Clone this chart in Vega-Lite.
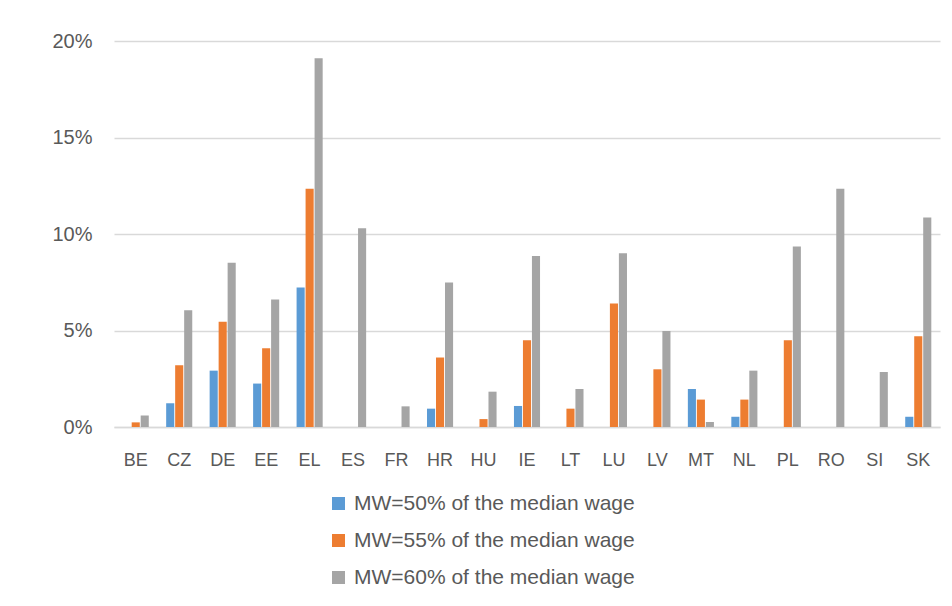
{
  "$schema": "https://vega.github.io/schema/vega-lite/v6.json",
  "width": 826,
  "height": 386,
  "autosize": {"type": "none"},
  "padding": {"left": 114, "top": 41, "right": 12, "bottom": 179},
  "background": "white",
  "config": {
    "view": {"stroke": null},
    "font": "Liberation Sans"
  },
  "data": {
    "values": [
      {"country": "BE", "series": "MW=55% of the median wage", "value": 0.0024},
      {"country": "BE", "series": "MW=60% of the median wage", "value": 0.006},
      {"country": "CZ", "series": "MW=50% of the median wage", "value": 0.0123},
      {"country": "CZ", "series": "MW=55% of the median wage", "value": 0.032},
      {"country": "CZ", "series": "MW=60% of the median wage", "value": 0.0605},
      {"country": "DE", "series": "MW=50% of the median wage", "value": 0.0292},
      {"country": "DE", "series": "MW=55% of the median wage", "value": 0.0545},
      {"country": "DE", "series": "MW=60% of the median wage", "value": 0.0851},
      {"country": "EE", "series": "MW=50% of the median wage", "value": 0.0225},
      {"country": "EE", "series": "MW=55% of the median wage", "value": 0.0408},
      {"country": "EE", "series": "MW=60% of the median wage", "value": 0.0661},
      {"country": "EL", "series": "MW=50% of the median wage", "value": 0.0723},
      {"country": "EL", "series": "MW=55% of the median wage", "value": 0.1234},
      {"country": "EL", "series": "MW=60% of the median wage", "value": 0.191},
      {"country": "ES", "series": "MW=60% of the median wage", "value": 0.103},
      {"country": "FR", "series": "MW=60% of the median wage", "value": 0.0107},
      {"country": "HR", "series": "MW=50% of the median wage", "value": 0.0095},
      {"country": "HR", "series": "MW=55% of the median wage", "value": 0.036},
      {"country": "HR", "series": "MW=60% of the median wage", "value": 0.0749},
      {"country": "HU", "series": "MW=55% of the median wage", "value": 0.0041},
      {"country": "HU", "series": "MW=60% of the median wage", "value": 0.0183},
      {"country": "IE", "series": "MW=50% of the median wage", "value": 0.0109},
      {"country": "IE", "series": "MW=55% of the median wage", "value": 0.045},
      {"country": "IE", "series": "MW=60% of the median wage", "value": 0.0886},
      {"country": "LT", "series": "MW=55% of the median wage", "value": 0.0095},
      {"country": "LT", "series": "MW=60% of the median wage", "value": 0.0197},
      {"country": "LU", "series": "MW=55% of the median wage", "value": 0.064},
      {"country": "LU", "series": "MW=60% of the median wage", "value": 0.09},
      {"country": "LV", "series": "MW=55% of the median wage", "value": 0.0299},
      {"country": "LV", "series": "MW=60% of the median wage", "value": 0.0498},
      {"country": "MT", "series": "MW=50% of the median wage", "value": 0.0197},
      {"country": "MT", "series": "MW=55% of the median wage", "value": 0.0142},
      {"country": "MT", "series": "MW=60% of the median wage", "value": 0.0026},
      {"country": "NL", "series": "MW=50% of the median wage", "value": 0.0053},
      {"country": "NL", "series": "MW=55% of the median wage", "value": 0.0142},
      {"country": "NL", "series": "MW=60% of the median wage", "value": 0.0292},
      {"country": "PL", "series": "MW=55% of the median wage", "value": 0.045},
      {"country": "PL", "series": "MW=60% of the median wage", "value": 0.0935},
      {"country": "RO", "series": "MW=60% of the median wage", "value": 0.1234},
      {"country": "SI", "series": "MW=60% of the median wage", "value": 0.0285},
      {"country": "SK", "series": "MW=50% of the median wage", "value": 0.0053},
      {"country": "SK", "series": "MW=55% of the median wage", "value": 0.047},
      {"country": "SK", "series": "MW=60% of the median wage", "value": 0.1085}
    ]
  },
  "mark": {"type": "bar"},
  "encoding": {
    "x": {
      "field": "country",
      "type": "nominal",
      "sort": ["BE","CZ","DE","EE","EL","ES","FR","HR","HU","IE","LT","LU","LV","MT","NL","PL","RO","SI","SK"],
      "scale": {"domain": ["BE","CZ","DE","EE","EL","ES","FR","HR","HU","IE","LT","LU","LV","MT","NL","PL","RO","SI","SK"], "paddingInner": 0.4, "paddingOuter": 0.2},
      "axis": {
        "title": null,
        "labelAngle": 0,
        "labelFontSize": 18,
        "labelColor": "#595959",
        "labelPadding": 24,
        "ticks": false,
        "domainColor": "#D9D9D9",
        "domainWidth": 1.5
      }
    },
    "xOffset": {
      "field": "series",
      "type": "nominal",
      "scale": {"domain": ["MW=50% of the median wage", "MW=55% of the median wage", "MW=60% of the median wage"], "paddingInner": 0.1}
    },
    "y": {
      "field": "value",
      "type": "quantitative",
      "scale": {"domain": [0, 0.2], "nice": false},
      "axis": {
        "title": null,
        "format": ".0%",
        "values": [0, 0.05, 0.1, 0.15, 0.2],
        "labelFontSize": 20,
        "labelColor": "#595959",
        "labelPadding": 22,
        "ticks": false,
        "domain": false,
        "gridColor": "#D9D9D9",
        "gridWidth": 1.5
      }
    },
    "color": {
      "field": "series",
      "type": "nominal",
      "scale": {
        "domain": ["MW=50% of the median wage", "MW=55% of the median wage", "MW=60% of the median wage"],
        "range": ["#5B9BD5", "#ED7D31", "#A5A5A5"]
      },
      "legend": {
        "title": null,
        "orient": "none",
        "legendX": 214,
        "legendY": 452,
        "direction": "vertical",
        "symbolType": "square",
        "symbolSize": 169,
        "symbolStrokeWidth": 0,
        "labelFontSize": 21,
        "labelColor": "#595959",
        "labelLimit": 600,
        "rowPadding": 15,
        "labelOffset": 5
      }
    }
  }
}
